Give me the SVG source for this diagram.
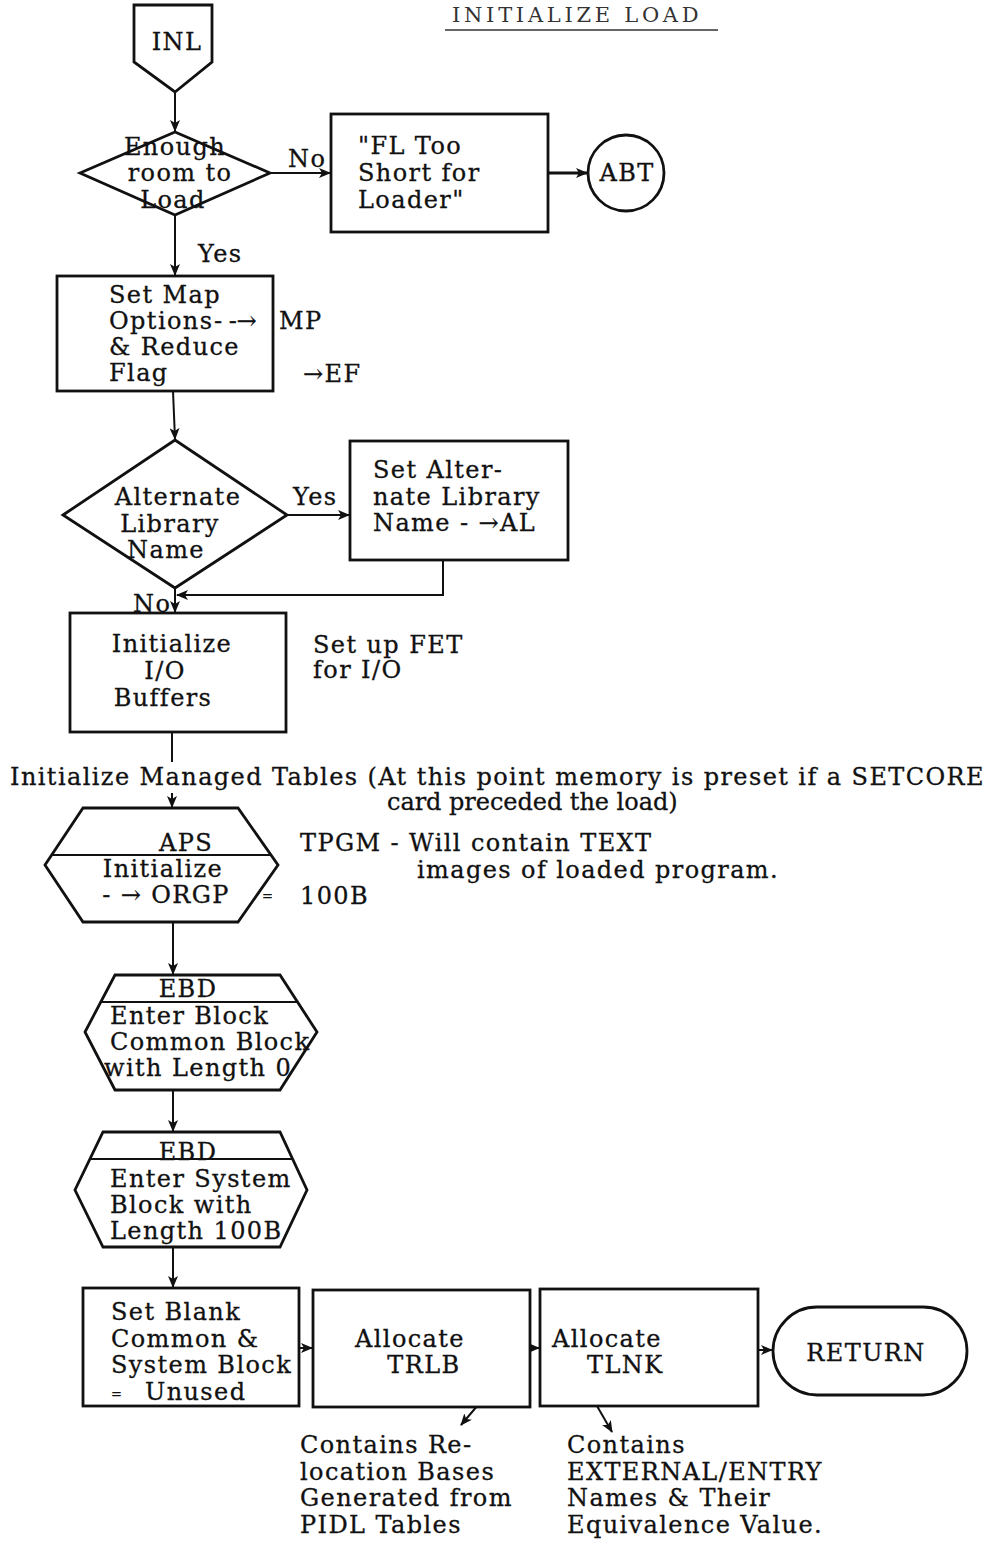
<svg xmlns="http://www.w3.org/2000/svg" width="987" height="1541" viewBox="0 0 987 1541">
<style>
  .t { font-family: "DejaVu Serif", "Liberation Serif", serif; font-size: 24px; letter-spacing: 1.4px; fill: #111; stroke: #111; stroke-width: 0.3; }
  .m { text-anchor: middle; }
  .sm { font-size: 13px; letter-spacing: 0; }
  .title { font-size: 21px; fill: #333; stroke: none; }
  .s { fill: #fff; stroke: #111; stroke-width: 2.8; }
  .c { fill: none; stroke: #111; stroke-width: 2; }
  .cb { fill: none; stroke: #111; stroke-width: 3; }
</style>
<defs>
  <marker id="ah" viewBox="0 0 12 10" refX="11" refY="5" markerWidth="12" markerHeight="10" markerUnits="userSpaceOnUse" orient="auto">
    <path d="M0,0 L12,5 L0,10 L3,5 z" fill="#111"/>
  </marker>
</defs>
<rect width="987" height="1541" fill="#fff"/>

<!-- heading -->
<g id="title">
  <text class="t title" x="452" y="22" textLength="248" lengthAdjust="spacing">INITIALIZE LOAD</text>
  <line x1="445" y1="30" x2="718" y2="30" stroke="#333" stroke-width="1.5"/>
</g>

<!-- connectors -->
<g id="connectors">
  <line class="c" x1="175" y1="92" x2="175" y2="131" marker-end="url(#ah)"/>
  <line class="c" x1="270" y1="173" x2="330" y2="173" marker-end="url(#ah)"/>
  <line class="cb" x1="548" y1="173" x2="587" y2="173" marker-end="url(#ah)"/>
  <line class="c" x1="175" y1="215" x2="175" y2="275" marker-end="url(#ah)"/>
  <line class="c" x1="173" y1="391" x2="175" y2="439" marker-end="url(#ah)"/>
  <line class="c" x1="287" y1="515" x2="349" y2="515" marker-end="url(#ah)"/>
  <polyline class="c" points="443,560 443,595 177,595" marker-end="url(#ah)"/>
  <line class="c" x1="175" y1="588" x2="175" y2="612" marker-end="url(#ah)"/>
  <line class="c" x1="172" y1="732" x2="172" y2="762"/>
  <line class="c" x1="172" y1="793" x2="172" y2="807" marker-end="url(#ah)"/>
  <line class="c" x1="173" y1="922" x2="173" y2="974" marker-end="url(#ah)"/>
  <line class="c" x1="173" y1="1090" x2="173" y2="1131" marker-end="url(#ah)"/>
  <line class="c" x1="173" y1="1247" x2="173" y2="1287" marker-end="url(#ah)"/>
  <line class="c" x1="299" y1="1348" x2="312" y2="1348" marker-end="url(#ah)"/>
  <line class="c" x1="530" y1="1348" x2="539" y2="1348" marker-end="url(#ah)"/>
  <line class="c" x1="758" y1="1350" x2="772" y2="1350" marker-end="url(#ah)"/>
  <line class="c" x1="478" y1="1405" x2="461" y2="1425" marker-end="url(#ah)"/>
  <line class="c" x1="597" y1="1406" x2="612" y2="1432" marker-end="url(#ah)"/>
  <text class="t" x="288" y="167">No</text>
  <text class="t" x="198" y="262">Yes</text>
  <text class="t" x="293" y="505">Yes</text>
  <text class="t" x="133" y="612">No</text>
</g>

<g id="inl">
  <polygon class="s" points="134,5 212,5 212,62 175,92 134,62"/>
  <text class="t m" x="177" y="50">INL</text>
</g>

<g id="room-check">
  <polygon class="s" points="80,173 175,132 270,173 175,215"/>
  <text class="t m" x="175" y="155">Enough</text>
  <text class="t m" x="180" y="181">room to</text>
  <text class="t m" x="173" y="208">Load</text>
</g>

<g id="too-short">
  <rect class="s" x="331" y="114" width="217" height="118"/>
  <text class="t" x="358" y="154">"FL Too</text>
  <text class="t" x="358" y="181">Short for</text>
  <text class="t" x="358" y="208">Loader"</text>
</g>

<g id="abt">
  <circle class="s" cx="626" cy="173" r="38"/>
  <text class="t m" x="627" y="181">ABT</text>
</g>

<g id="map-options">
  <rect class="s" x="57" y="276" width="216" height="115"/>
  <text class="t" x="109" y="303">Set Map</text>
  <text class="t" x="109" y="329">Options</text>
  <text class="t" x="214" y="329" textLength="44">- -→</text>
  <text class="t" x="109" y="355">&amp; Reduce</text>
  <text class="t" x="109" y="381">Flag</text>
  <text class="t" x="279" y="329">MP</text>
  <text class="t" x="303" y="382">→EF</text>
</g>

<g id="alt-lib-check">
  <polygon class="s" points="63,515 175,440 287,515 175,588"/>
  <text class="t m" x="178" y="505">Alternate</text>
  <text class="t m" x="170" y="532">Library</text>
  <text class="t m" x="166" y="558">Name</text>
</g>

<g id="set-alt-lib">
  <rect class="s" x="350" y="441" width="218" height="119"/>
  <text class="t" x="373" y="478">Set Alter-</text>
  <text class="t" x="373" y="505">nate Library</text>
  <text class="t" x="373" y="531">Name - →AL</text>
</g>

<g id="init-io">
  <rect class="s" x="70" y="613" width="216" height="119"/>
  <text class="t m" x="172" y="652">Initialize</text>
  <text class="t m" x="165" y="679">I/O</text>
  <text class="t m" x="163" y="706">Buffers</text>
  <text class="t" x="313" y="653">Set up FET</text>
  <text class="t" x="313" y="678">for I/O</text>
</g>

<g id="managed-tables">
  <text class="t" x="10" y="785" textLength="975" lengthAdjust="spacing">Initialize Managed Tables (At this point memory is preset if a SETCORE</text>
  <text class="t" x="387" y="810" textLength="292" lengthAdjust="spacing">card preceded the load)</text>
</g>

<g id="aps">
  <polygon class="s" points="83,808 238,808 278,865 238,922 83,922 45,865"/>
  <line class="c" x1="52" y1="855" x2="271" y2="855"/>
  <text class="t m" x="186" y="851">APS</text>
  <text class="t m" x="163" y="877">Initialize</text>
  <text class="t m" x="166" y="903">- → ORGP</text>
  <text class="t sm" x="262" y="900">=</text>
  <text class="t" x="300" y="851">TPGM - Will contain TEXT</text>
  <text class="t" x="417" y="878">images of loaded program.</text>
  <text class="t" x="300" y="904">100B</text>
</g>

<g id="ebd-common">
  <polygon class="s" points="115,975 280,975 317,1032 280,1090 115,1090 85,1032"/>
  <line class="c" x1="101" y1="1002" x2="297" y2="1002"/>
  <text class="t m" x="188" y="997">EBD</text>
  <text class="t" x="110" y="1024">Enter Block</text>
  <text class="t" x="110" y="1050">Common Block</text>
  <text class="t" x="104" y="1076">with Length 0</text>
</g>

<g id="ebd-system">
  <polygon class="s" points="103,1132 280,1132 307,1190 280,1247 103,1247 75,1190"/>
  <line class="c" x1="90" y1="1159" x2="293" y2="1159"/>
  <text class="t m" x="188" y="1160">EBD</text>
  <text class="t" x="110" y="1187">Enter System</text>
  <text class="t" x="110" y="1213">Block with</text>
  <text class="t" x="110" y="1239">Length 100B</text>
</g>

<g id="blank-common">
  <rect class="s" x="83" y="1288" width="216" height="118"/>
  <text class="t" x="111" y="1320">Set Blank</text>
  <text class="t" x="111" y="1347">Common &amp;</text>
  <text class="t" x="111" y="1373">System Block</text>
  <text class="t sm" x="111" y="1398">=</text>
  <text class="t" x="145" y="1400">Unused</text>
</g>

<g id="trlb">
  <rect class="s" x="313" y="1290" width="217" height="117"/>
  <text class="t m" x="410" y="1347">Allocate</text>
  <text class="t m" x="424" y="1373">TRLB</text>
  <text class="t" x="300" y="1453">Contains Re-</text>
  <text class="t" x="300" y="1480">location Bases</text>
  <text class="t" x="300" y="1506">Generated from</text>
  <text class="t" x="300" y="1533">PIDL Tables</text>
</g>

<g id="tlnk">
  <rect class="s" x="540" y="1289" width="218" height="117"/>
  <text class="t" x="552" y="1347">Allocate</text>
  <text class="t" x="587" y="1373">TLNK</text>
  <text class="t" x="567" y="1453">Contains</text>
  <text class="t" x="567" y="1480">EXTERNAL/ENTRY</text>
  <text class="t" x="567" y="1506">Names &amp; Their</text>
  <text class="t" x="567" y="1533">Equivalence Value.</text>
</g>

<g id="return">
  <rect class="s" x="773" y="1307" width="194" height="88" rx="44" ry="44"/>
  <text class="t m" x="866" y="1361">RETURN</text>
</g>
</svg>
